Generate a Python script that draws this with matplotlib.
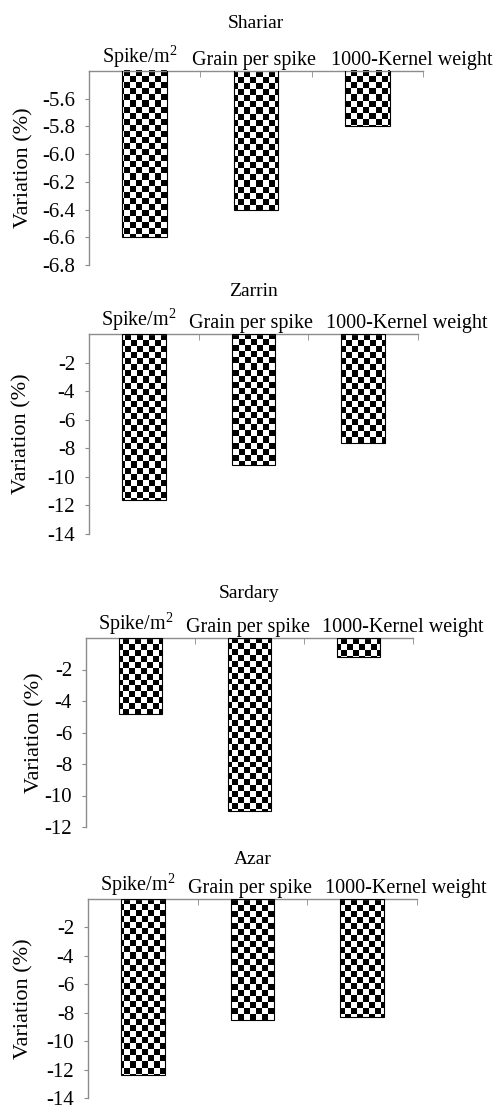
import numpy as np
import matplotlib
matplotlib.use("Agg")
import matplotlib.pyplot as plt
from matplotlib.transforms import ScaledTranslation

plt.rcParams["font.family"] = ["Liberation Serif", "DejaVu Serif"]
plt.rcParams["axes.unicode_minus"] = False

categories = ["Spike/m$^\\mathregular{2}$", "Grain per spike", "1000-Kernel weight"]
cultivars = ["Shariar", "Zarrin", "Sardary", "Azar"]

shariar = [-6.6, -6.4, -5.8]
zarrin = [-11.6, -9.2, -7.6]
sardary = [-4.8, -11.0, -1.2]
azar = [-12.4, -8.5, -8.3]

y_ticks = [
    [-5.6, -5.8, -6.0, -6.2, -6.4, -6.6, -6.8],
    [-2, -4, -6, -8, -10, -12, -14],
    [-2, -4, -6, -8, -10, -12],
    [-2, -4, -6, -8, -10, -12, -14],
]
y_limits = [(-6.8, -5.4), (-14, 0), (-12, 0), (-14, 0)]
tick_fmt = ["{:.1f}", "{:.0f}", "{:.0f}", "{:.0f}"]

# panel boxes in pixels: left, top, right, bottom
boxes = [
    (89, 71, 423, 265),
    (89, 334, 418, 534),
    (86, 638, 413, 827),
    (88, 899, 417, 1098),
]
title_gap = [48, 42, 45, 39]
ylabel_x = [24, 22, 35, 24]
label_shift = [-5, -2, 44]

W, H = 495, 1106
fig = plt.figure(figsize=(W / 100, H / 100), dpi=100)
axis_grey = "#8c8c8c"
cell = 6  # checker square size in pixels

x = np.arange(len(categories))
for k, values in enumerate([shariar, zarrin, sardary, azar]):
    l, t, r, b = boxes[k]
    ax = fig.add_axes([l / W, 1 - b / H, (r - l) / W, (b - t) / H])

    # checkerboard fill, one image per bar clipped to its outline
    nx = int(round((r - l) / cell))
    ny = int(round((b - t) / cell))
    checker = (np.add.outer(np.arange(ny), np.arange(nx)) % 2).astype(float)
    bars = ax.bar(x, values, width=0.4, fill=False, edgecolor="black",
                  linewidth=0.8, zorder=3)
    for bar in bars:
        im = ax.imshow(checker, cmap="gray", vmin=0, vmax=1,
                       extent=(0, 1, 0, 1), transform=ax.transAxes,
                       aspect="auto", interpolation="nearest", zorder=2)
        im.set_clip_path(bar)

    ax.set_xlim(-0.5, 2.5)
    ax.set_ylim(*y_limits[k])

    for side in ["bottom", "right"]:
        ax.spines[side].set_visible(False)
    for side in ["top", "left"]:
        ax.spines[side].set_color(axis_grey)
        ax.spines[side].set_linewidth(1.0)

    ax.xaxis.tick_top()
    ax.set_xticks(x)
    ax.set_xticklabels(categories, fontsize=14.5)
    ax.set_xticks([-0.5, 0.5, 1.5, 2.5], minor=True)
    ax.tick_params(axis="x", which="major", length=0, pad=0.5)
    ax.tick_params(axis="x", which="minor", direction="in", length=4,
                   color=axis_grey)
    for lab, dx in zip(ax.get_xticklabels(), label_shift):
        lab.set_transform(lab.get_transform() +
                          ScaledTranslation(dx / 100, 0, fig.dpi_scale_trans))

    ax.set_yticks(y_ticks[k])
    ax.set_yticklabels([tick_fmt[k].format(v) for v in y_ticks[k]], fontsize=15)
    ax.tick_params(axis="y", direction="out", length=3, color=axis_grey, pad=7)

    ax.annotate(cultivars[k], xy=(0.5, 1), xycoords="axes fraction",
                xytext=(0, title_gap[k]), textcoords="offset pixels",
                ha="center", va="center", fontsize=14)
    ax.text((ylabel_x[k] - l) / (r - l), 0.5, "Variation (%)",
            transform=ax.transAxes, rotation=90, ha="center", va="center",
            fontsize=16)

fig.savefig("out.png", dpi=100)
